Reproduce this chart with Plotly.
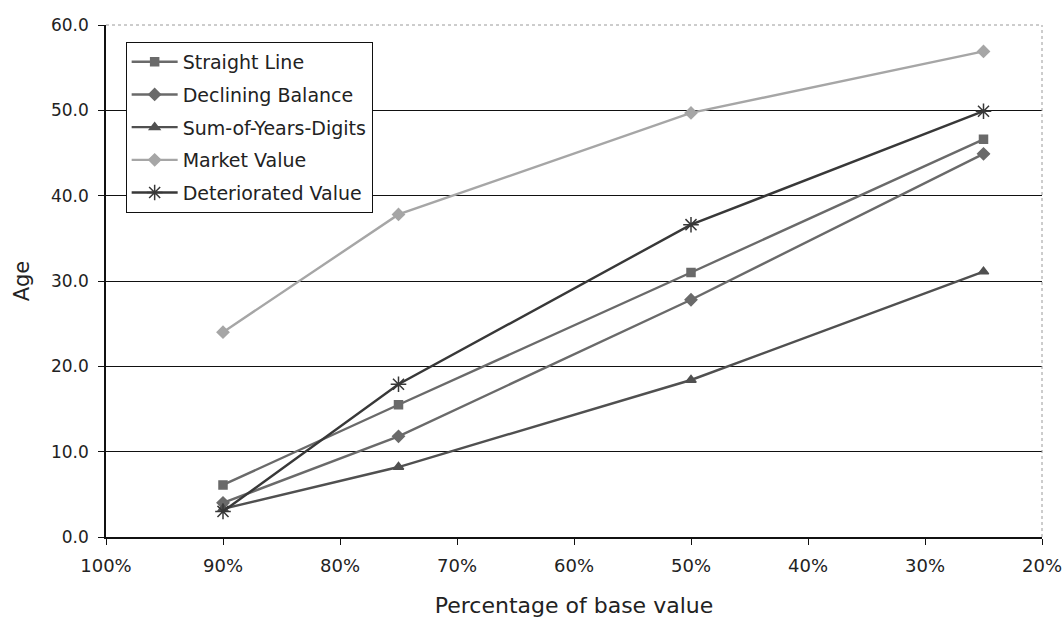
import plotly.graph_objects as go

# Share of base value remaining (x) and the age reached (y) for each method
pct_base = [0.90, 0.75, 0.50, 0.25]

straight_line = [6.1, 15.5, 31.0, 46.6]
declining_balance = [4.0, 11.8, 27.8, 44.9]
sum_of_years_digits = [3.3, 8.2, 18.4, 31.1]
market_value = [24.0, 37.8, 49.7, 56.9]
deteriorated_value = [3.0, 17.9, 36.6, 49.9]

series = [
    ("Straight Line", straight_line, "square", "#6a6a6a", 8),
    ("Declining Balance", declining_balance, "diamond", "#6a6a6a", 9),
    ("Sum-of-Years-Digits", sum_of_years_digits, "triangle-up", "#505050", 9),
    ("Market Value", market_value, "diamond", "#a6a6a6", 9),
    ("Deteriorated Value", deteriorated_value, "asterisk-open", "#383838", 13),
]

y_ticks = [0, 10, 20, 30, 40, 50, 60]
x_ticks = [1.0, 0.9, 0.8, 0.7, 0.6, 0.5, 0.4, 0.3, 0.2]

FONT = "DejaVu Sans, Verdana, sans-serif"

fig = go.Figure()
for name, values, symbol, color, size in series:
    fig.add_trace(go.Scatter(
        x=pct_base, y=values, name=name, legendgroup=name,
        mode="lines+markers",
        line=dict(color=color, width=2.4),
        marker=dict(symbol=symbol, size=size, color=color,
                    line=dict(color=color, width=1.5)),
    ))

fig.update_layout(
    width=1063, height=621,
    margin=dict(l=106, r=21, t=25, b=84),
    paper_bgcolor="white", plot_bgcolor="white",
    font=dict(family=FONT, size=17, color="#222222"),
    showlegend=True,
    legend=dict(
        x=0.021, y=0.967, xanchor="left", yanchor="top",
        bgcolor="white", bordercolor="#111111", borderwidth=1,
        font=dict(family=FONT, size=19, color="#222222"),
        traceorder="grouped", tracegroupgap=5, itemwidth=46,
    ),
    xaxis=dict(
        range=[1.0, 0.2], tickvals=x_ticks, tickformat=".0%",
        showgrid=False, zeroline=False, automargin=False,
        showline=True, linecolor="#111111", linewidth=1.5,
        ticks="outside", ticklen=6, tickcolor="#111111",
        ticklabelstandoff=6,
        tickfont=dict(size=18),
        title=dict(text="Percentage of base value", font=dict(size=22), standoff=22),
    ),
    yaxis=dict(
        range=[0, 60], tickvals=y_ticks, tickformat=".1f",
        showgrid=True, gridcolor="#111111", gridwidth=1.2,
        zeroline=False, automargin=False,
        showline=True, linecolor="#111111", linewidth=1.5,
        ticks="outside", ticklen=6, tickcolor="#111111",
        ticklabelstandoff=6,
        tickfont=dict(size=17),
        title=dict(text="Age", font=dict(size=21), standoff=16),
    ),
)

# Light dotted frame along the top and right of the plotting area
fig.add_shape(type="line", xref="paper", yref="paper", x0=0, x1=1, y0=1, y1=1,
              line=dict(color="#9a9a9a", width=1, dash="dot"))
fig.add_shape(type="line", xref="paper", yref="paper", x0=1, x1=1, y0=0, y1=1,
              line=dict(color="#9a9a9a", width=1, dash="dot"))

fig.write_html("out.html")
